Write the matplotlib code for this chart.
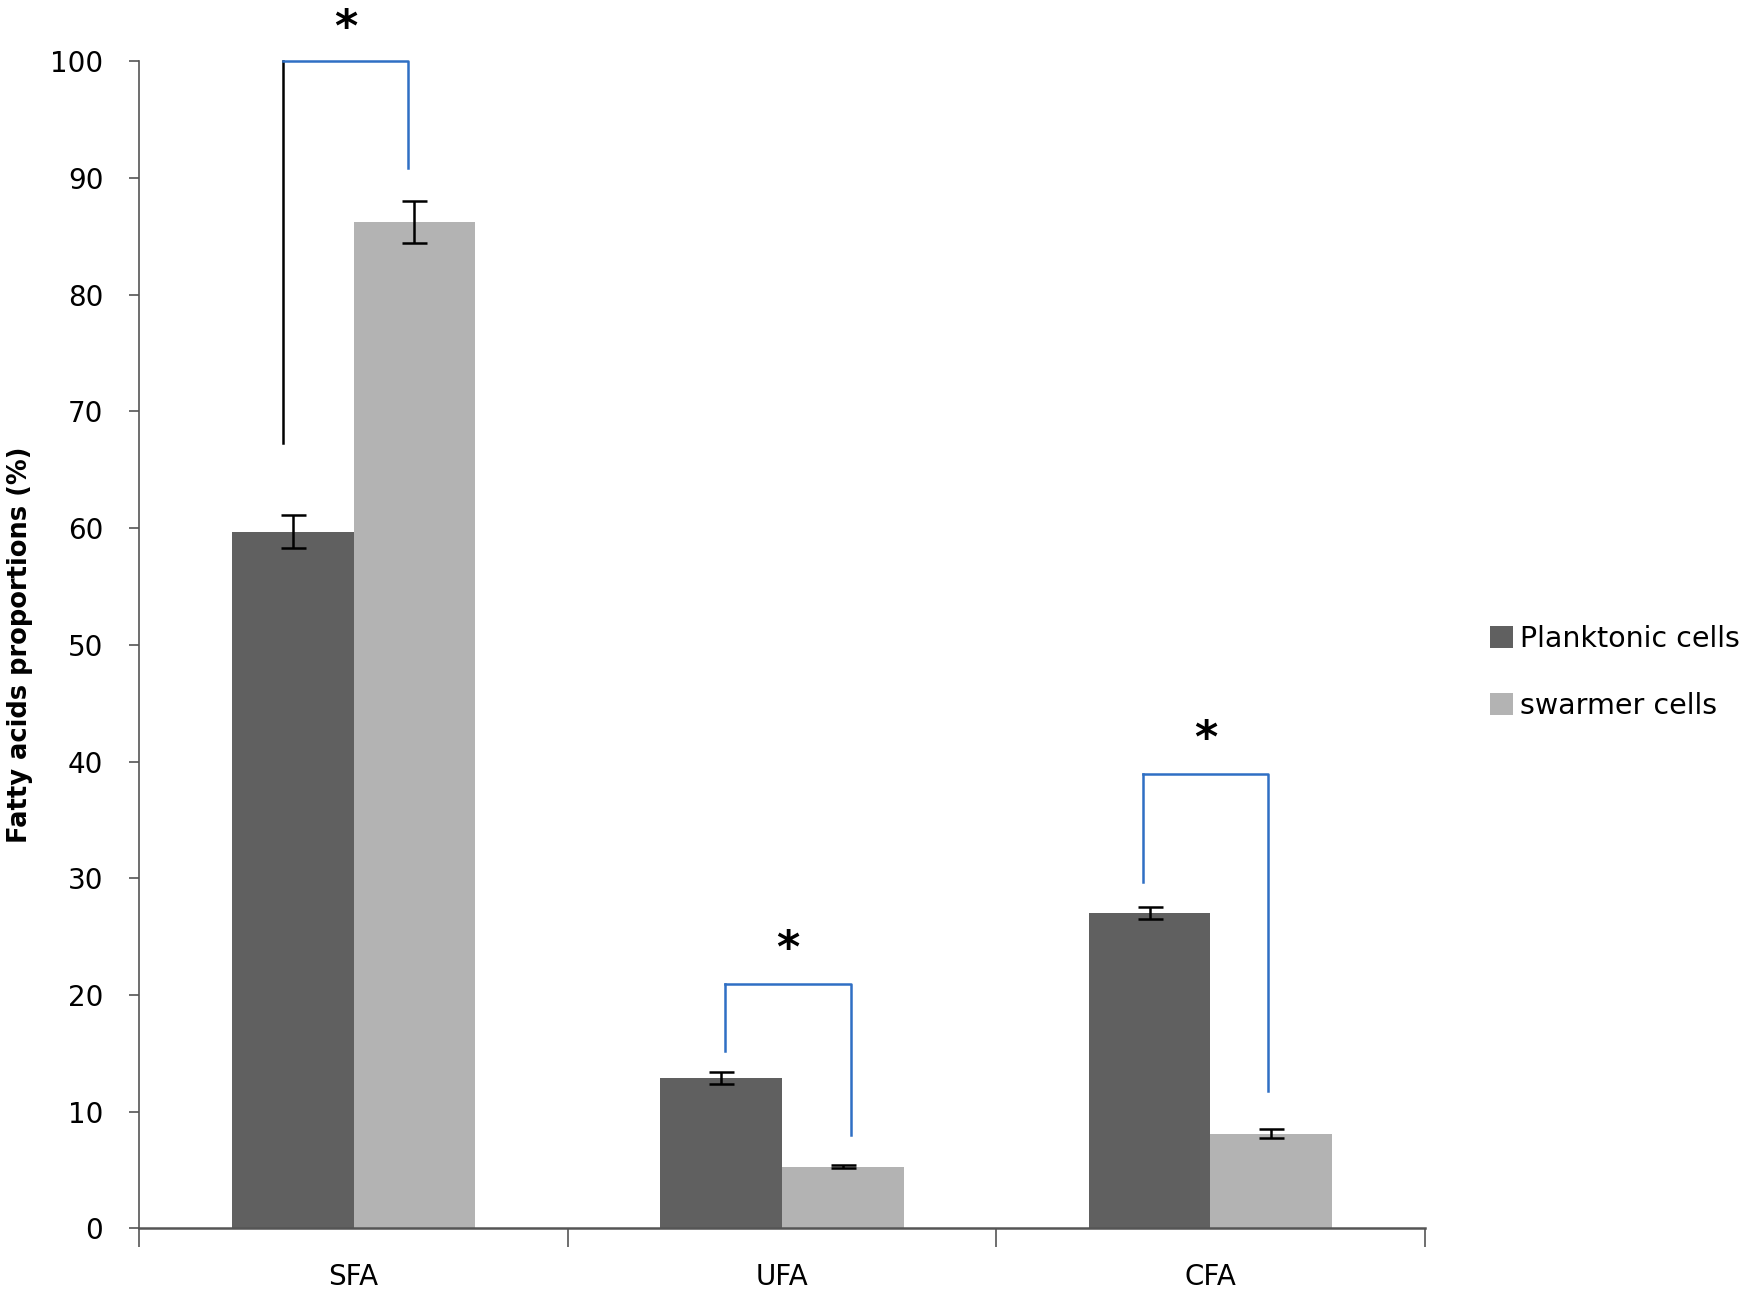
import numpy as np
import matplotlib
matplotlib.use("Agg")
import matplotlib.pyplot as plt

categories = ["SFA", "UFA", "CFA"]
planktonic = [59.7, 12.9, 27.0]
planktonic_err = [1.4, 0.5, 0.5]
swarmer = [86.2, 5.3, 8.1]
swarmer_err = [1.8, 0.15, 0.4]

# significance brackets: left/right offsets, left start, top, right end, star height
br_left = [-0.164, -0.134, -0.157]
br_right = [0.128, 0.160, 0.135]
br_y_left = [67.3, 15.2, 29.7]
br_y_top = [100.0, 20.9, 38.9]
br_y_right = [90.9, 8.0, 11.8]
star_y = [102.8, 23.9, 41.9]

dark = "#606060"
light = "#b3b3b3"
blue = "#2f6fc4"

fig = plt.figure(figsize=(17.5, 12.93), dpi=100)
ax = fig.add_axes([0.0797, 0.050, 0.7343, 0.9025])

x = np.arange(len(categories))
w = 0.284
ax.bar(x - w/2, planktonic, w, color=dark, label="Planktonic cells", zorder=2)
ax.bar(x + w/2, swarmer, w, color=light, label="swarmer cells", zorder=2)
ax.errorbar(x - w/2, planktonic, yerr=planktonic_err, fmt="none", ecolor="black",
            elinewidth=1.8, capsize=9, capthick=1.8, zorder=3)
ax.errorbar(x + w/2, swarmer, yerr=swarmer_err, fmt="none", ecolor="black",
            elinewidth=1.8, capsize=9, capthick=1.8, zorder=3)

for i in range(len(categories)):
	xl = x[i] + br_left[i]
	xr = x[i] + br_right[i]
	lc = "black" if i == 0 else blue
	ax.plot([xl, xl], [br_y_left[i], br_y_top[i]], color=lc, lw=1.8, clip_on=False, zorder=4)
	ax.plot([xl, xr, xr], [br_y_top[i], br_y_top[i], br_y_right[i]], color=blue, lw=1.8,
	        clip_on=False, zorder=4)
	ax.text((xl + xr)/2, star_y[i], "*", ha="center", va="center", fontsize=32,
	        fontweight="bold", clip_on=False)

ax.set_xlim(-0.5, 2.5)
ax.set_ylim(0, 100)
ax.set_yticks(np.arange(0, 101, 10))
ax.set_xticks([-0.5, 0.5, 1.5, 2.5])
ax.set_xticklabels([])
ax.set_xticks(x, minor=True)
ax.set_xticklabels(categories, minor=True)
ax.tick_params(axis="x", which="major", direction="out", length=14, color="#555555", width=1.2)
ax.tick_params(axis="x", which="minor", length=0, pad=25, labelsize=20)
ax.tick_params(axis="y", direction="out", length=7, color="#555555", width=1.2, pad=19, labelsize=20)

for s in ["top", "right"]:
	ax.spines[s].set_visible(False)
ax.spines["left"].set_color("#555555")
ax.spines["bottom"].set_color("#555555")
ax.spines["left"].set_linewidth(1.2)
ax.spines["bottom"].set_linewidth(1.8)

ax.set_ylabel("Fatty acids proportions (%)", fontsize=18.5, fontweight="bold")
ax.yaxis.set_label_coords(-0.083, 0.5)

fig.legend(loc="center left", bbox_to_anchor=(0.837, 0.48), frameon=False, fontsize=20.5,
           handlelength=0.8, handleheight=0.8, handletextpad=0.25, labelspacing=1.35)

fig.savefig("out.png", dpi=100)
